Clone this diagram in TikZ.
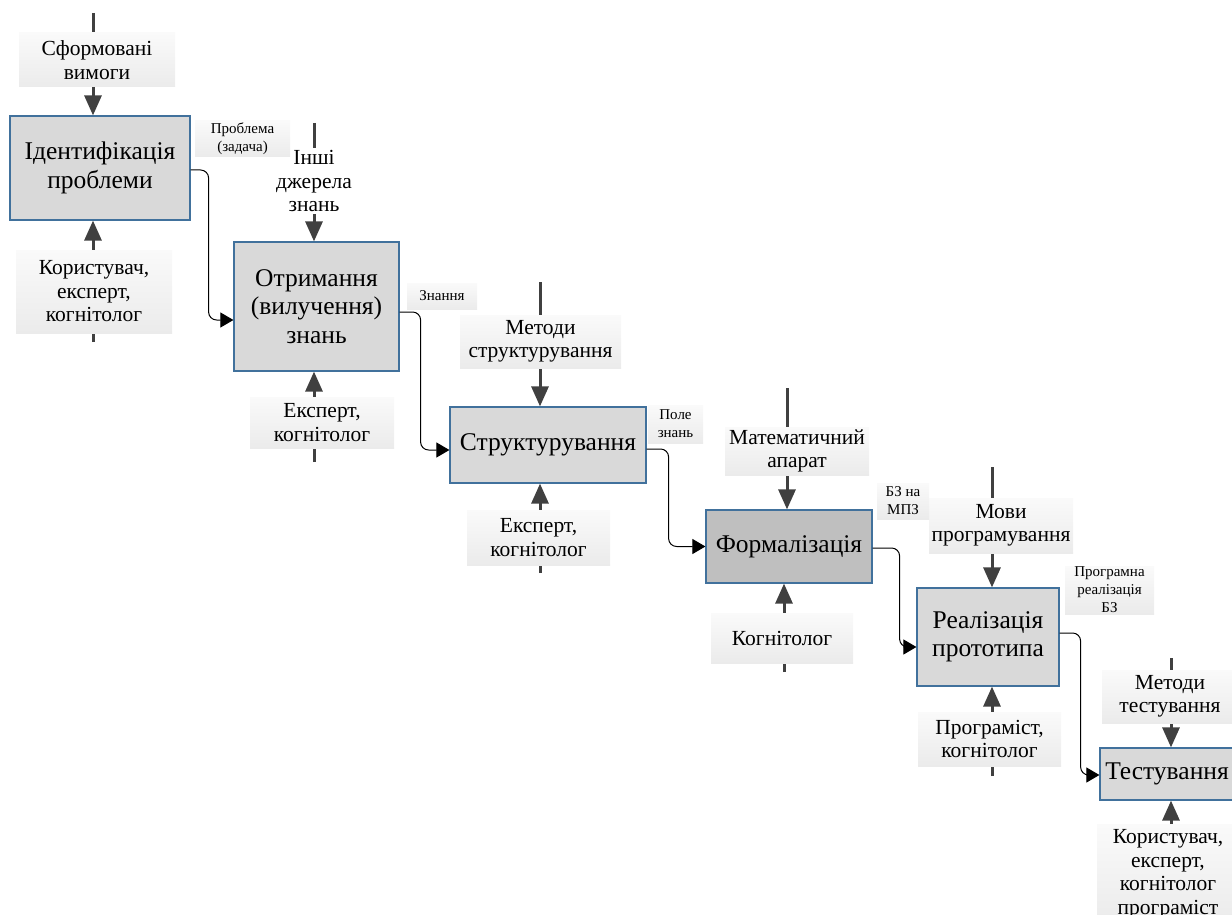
\documentclass[tikz,border=0pt]{standalone}
\usepackage{fontspec}
\newfontfamily\serifcyr{Liberation Serif}
\usetikzlibrary{arrows.meta}
\definecolor{boxfill}{HTML}{D9D9D9}
\definecolor{boxdark}{HTML}{BFBFBF}
\definecolor{boxline}{HTML}{41719C}
\definecolor{lbltop}{HTML}{FAFAFA}
\definecolor{lblbottom}{HTML}{EBEBEB}
\definecolor{ctlline}{HTML}{404040}
\newcommand\bigtxt{\serifcyr\fontsize{25.5}{28.5}\selectfont}
\newcommand\midtxt{\serifcyr\fontsize{21.5}{23.5}\selectfont}
\newcommand\smalltxt{\serifcyr\fontsize{15}{18}\selectfont}

\begin{document}
\begin{tikzpicture}[x=1pt,y=-1pt,
  stage/.style={draw=boxline, line width=1.2pt, fill=boxfill, align=center,
    font=\bigtxt, inner sep=0pt},
  plainlbl/.style={fill=white, align=center, font=\midtxt, inner sep=0pt},
  lbl/.style={top color=lbltop, bottom color=lblbottom, align=center,
    font=\midtxt, inner sep=0pt},
  outlbl/.style={top color=lbltop, bottom color=lblbottom, align=center,
    font=\smalltxt, inner sep=0pt},
  ctl/.style={draw=ctlline, line width=3pt,
    -{Triangle[length=20pt,width=17pt]}},
  flow/.style={draw=black, line width=1pt, rounded corners=8pt,
    -{Triangle[length=13pt,width=15pt]}}
]
\useasboundingbox (0,0) rectangle (1232,915);
\clip (0,0) rectangle (1232,915);

% process stages
\node[stage, minimum width=180pt, minimum height=104pt] (b1) at (100,168) {Ідентифікація\\проблеми};
\node[stage, minimum width=165pt, minimum height=129pt] (b2) at (316.5,306.5) {Отримання\\(вилучення)\\знань};
\node[stage, minimum width=196pt, minimum height=76pt] (b3) at (548,445) {Структурування};
\node[stage, fill=boxdark, minimum width=166pt, minimum height=73pt] (b4) at (789,546.5) {Формалізація};
\node[stage, minimum width=142pt, minimum height=98pt] (b5) at (988,637) {Реалізація\\прототипа};
\node[stage, minimum width=134pt, minimum height=52pt] (b6) at (1167,774) {Тестування};

% free ends of control (top) and mechanism (bottom) lines
\coordinate (t1) at (93,13);
\coordinate (t2) at (314,123);
\coordinate (t3) at (540,282);
\coordinate (t4) at (787,388);
\coordinate (t5) at (992,467);
\coordinate (t6) at (1171,658);
\coordinate (u1) at (93,342);
\coordinate (u2) at (314,462);
\coordinate (u3) at (540,573);
\coordinate (u4) at (784,672);
\coordinate (u5) at (992,776);
\coordinate (u6) at (1171,915);

\foreach \i in {1,...,6}{
  \draw[ctl] (t\i) -- (t\i |- b\i.north);
  \draw[ctl] (u\i) -- (u\i |- b\i.south);
}

% stage-to-stage results
\draw[flow] ([yshift=-2pt]b1.east) -- ++(18,0) |- ([yshift=-13.5pt]b2.west);
\draw[flow] ([yshift=-5.5pt]b2.east) -- ++(21,0) |- ([yshift=-5pt]b3.west);
\draw[flow] ([yshift=-4pt]b3.east) -- ++(22,0) |- (b4.west);
\draw[flow] ([yshift=-1.5pt]b4.east) -- ++(27,0) |- ([yshift=-10pt]b5.west);
\draw[flow] ([yshift=4pt]b5.east) -- ++(21,0) |- ([yshift=-1pt]b6.west);

% control labels
\node[lbl, minimum width=156pt, minimum height=54pt] (l1) at (97,60) {Сформовані\\вимоги};
\node[plainlbl, minimum width=84pt, minimum height=66pt] (l2) at (314,181) {Інші\\джерела\\знань};
\node[lbl, minimum width=161pt, minimum height=53pt] (l3) at (540.5,341.5) {Методи\\структурування};
\node[lbl, minimum width=144pt, minimum height=48pt] (l4) at (797,451) {Математичний\\апарат};
\node[lbl, minimum width=144pt, minimum height=55pt] (l5) at (1001,525.5) {Мови\\програмування};
\node[lbl, minimum width=136pt, minimum height=53pt] (l6) at (1170,696.5) {Методи\\тестування};

% mechanism labels
\node[lbl, minimum width=156pt, minimum height=83pt] (m1) at (94,291.5) {Користувач,\\експерт,\\когнітолог};
\node[lbl, minimum width=144pt, minimum height=51pt] (m2) at (322,422.5) {Експерт,\\когнітолог};
\node[lbl, minimum width=143pt, minimum height=55pt] (m3) at (538.5,537.5) {Експерт,\\когнітолог};
\node[lbl, minimum width=142pt, minimum height=50pt] (m4) at (782,638) {Когнітолог};
\node[lbl, minimum width=143pt, minimum height=54pt] (m5) at (989.5,739) {Програміст,\\когнітолог};
\node[lbl, minimum width=142pt, minimum height=100pt] (m6) at (1168,874) {Користувач,\\експерт,\\когнітолог\\програміст};

% result labels
\node[outlbl, minimum width=95pt, minimum height=36pt] (o1) at (242.5,139) {Проблема\\(задача)};
\node[outlbl, minimum width=70pt, minimum height=26pt] (o2) at (442,296) {Знання};
\node[outlbl, minimum width=55pt, minimum height=38pt] (o3) at (675.5,424) {Поле\\знань};
\node[outlbl, minimum width=52pt, minimum height=36pt] (o4) at (903,501) {БЗ на\\МПЗ};
\node[outlbl, minimum width=89pt, minimum height=48pt] (o5) at (1109.5,590) {Програмна\\реалізація\\БЗ};
\end{tikzpicture}
\end{document}
